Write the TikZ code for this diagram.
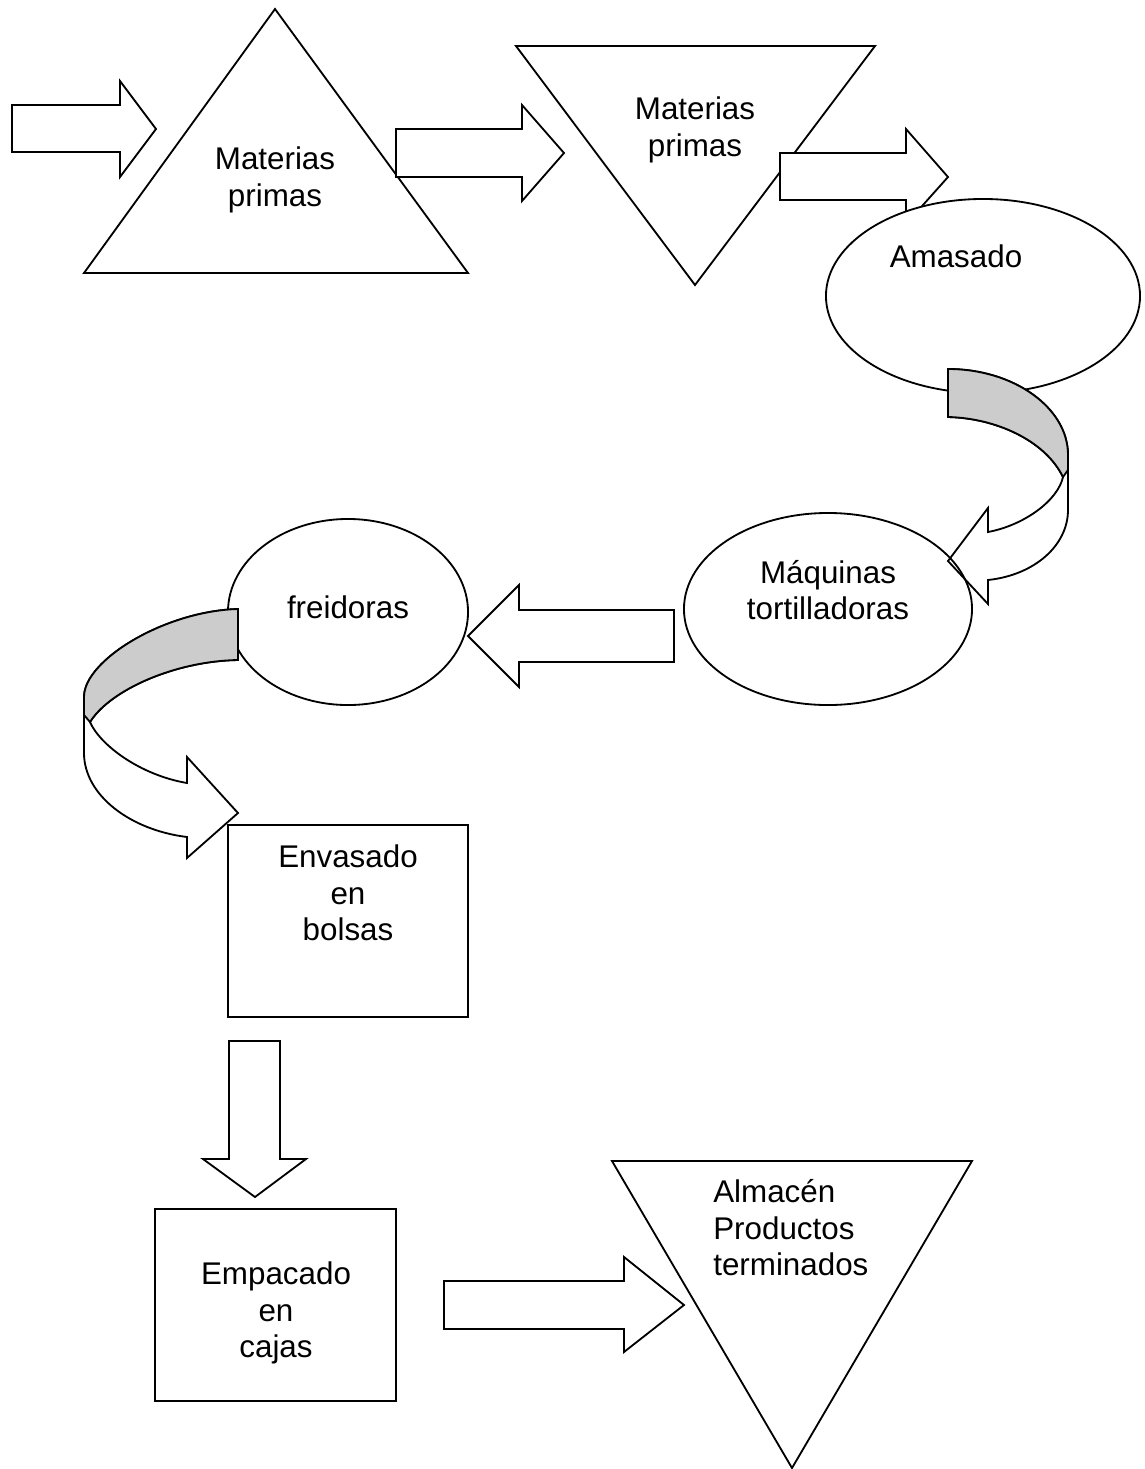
\documentclass[tikz,border=0pt]{standalone}
\usepackage{fontspec}
\setmainfont{Liberation Sans}
\usetikzlibrary{shapes.geometric,positioning}
\tikzstyle{oval} = [ellipse, draw, line width=1.3pt, inner sep=0pt]
\tikzstyle{box} = [rectangle, draw, line width=1.3pt, inner sep=0pt]
\tikzstyle{flow} = [draw, fill=white, line width=1.3pt, line join=miter]
\tikzstyle{back} = [draw, fill=gray!40, line width=1.3pt]
\tikzstyle{txt} = [align=center, inner sep=0pt,
    font=\fontsize{22.3}{25.9}\selectfont]
\begin{document}
\begin{tikzpicture}[x=0.025cm, y=-0.025cm]
    \useasboundingbox (0,0) rectangle (1145,1469);
    % storage triangles
    \path [flow] (275,9) -- (468,273) -- (84,273) -- cycle;
    \path [flow] (516,46) -- (875,46) -- (695,285) -- cycle;
    % block arrows, top row
    \path [flow] (12,105) -- (120,105) -- (120,81) -- (156,129) -- (120,177) -- (120,152) -- (12,152) -- cycle;
    \path [flow] (396,129) -- (522,129) -- (522,105) -- (564,153) -- (522,201) -- (522,177) -- (396,177) -- cycle;
    \path [flow] (780,153) -- (906,153) -- (906,129) -- (948,177) -- (906,224) -- (906,200) -- (780,200) -- cycle;
    % Place nodes
    \node [oval, fill=white, minimum width=7.85cm, minimum height=4.85cm] (amasadoE) at (983,296) {};
    % curved arrow down to the machines
    \path [flow] (948,369) .. controls (1014,369) and (1068,408) .. (1068,455)
        -- (1068,510) .. controls (1068,545) and (1035,575) .. (988,580)
        -- (988,604) -- (948,561) -- (988,508) -- (988,532)
        .. controls (1025,525) and (1058,500) .. (1063,477)
        .. controls (1045,440) and (995,418) .. (948,417) -- cycle;
    \path [back] (948,369) .. controls (1014,369) and (1068,408) .. (1068,455)
        -- (1068,470) -- (1063,477)
        .. controls (1045,440) and (995,418) .. (948,417) -- cycle;
    \node [oval, minimum width=7.2cm, minimum height=4.8cm] (maquinasE) at (828,609) {};
    \path [flow] (674,610) -- (519,610) -- (519,585) -- (468,636) -- (519,687) -- (519,662) -- (674,662) -- cycle;
    \node [oval, fill=white, minimum width=6cm, minimum height=4.65cm] (freidorasE) at (348,612) {};
    \node [box, fill=white, minimum width=6cm, minimum height=4.8cm] (envasadoB) at (348,921) {};
    % curved arrow down to the bags
    \path [flow] (238,609) .. controls (165,611) and (84,660) .. (84,697)
        -- (84,753) .. controls (84,795) and (130,830) .. (187,837)
        -- (187,858) -- (238,813) -- (187,757) -- (187,783)
        .. controls (140,775) and (100,745) .. (90,722)
        .. controls (110,690) and (175,661) .. (238,660) -- cycle;
    \path [back] (238,609) .. controls (165,611) and (84,660) .. (84,697)
        -- (84,715) -- (90,722) .. controls (110,690) and (175,661) .. (238,660) -- cycle;
    \path [flow] (229,1041) -- (229,1159) -- (203,1159) -- (255,1197) -- (306,1159) -- (280,1159) -- (280,1041) -- cycle;
    \node [box, minimum width=6.025cm, minimum height=4.8cm] (empacadoB) at (275.5,1305) {};
    \path [flow] (444,1281) -- (624,1281) -- (624,1257) -- (684,1305) -- (624,1352) -- (624,1329) -- (444,1329) -- cycle;
    \path [flow] (612,1161) -- (972,1161) -- (792,1468) -- cycle;
    % texts
    \node [txt] (mp1) at (275,180) {Materias\\primas};
    \node [txt] (mp2) at (695,130) {Materias\\primas};
    \node [txt] (amasado) at (956,256) {Amasado};
    \node [txt] (maquinas) at (828,590) {Máquinas\\tortilladoras};
    \node [txt] (freidoras) at (348,607) {freidoras};
    \node [txt] (envasado) at (348,893) {Envasado\\en\\bolsas};
    \node [txt] (empacado) at (276,1313) {Empacado\\en\\cajas};
    \node [txt, align=left, anchor=west] (almacen) at (713,1228) {Almacén\\Productos\\terminados};
\end{tikzpicture}
\end{document}
